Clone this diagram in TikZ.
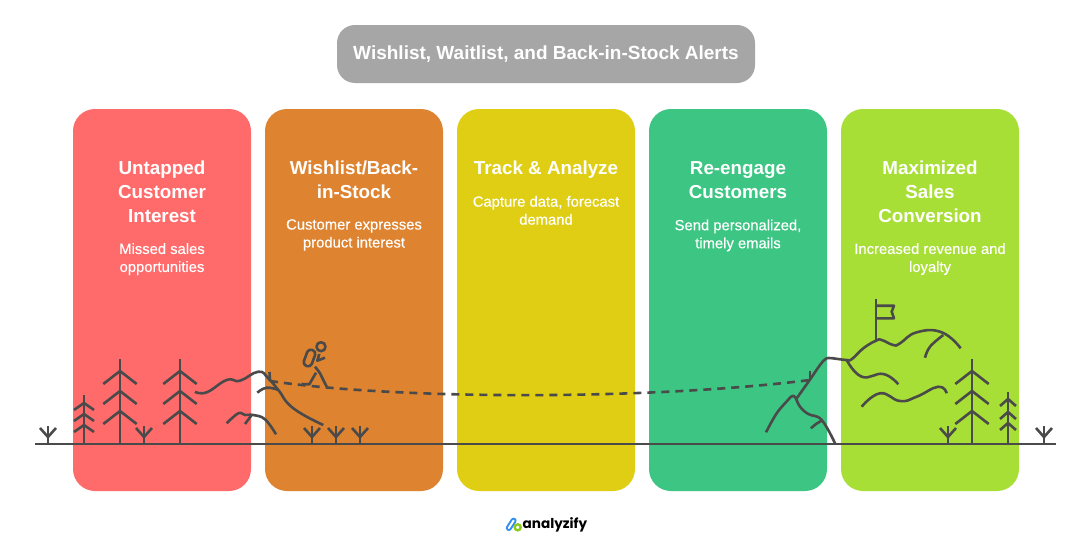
\documentclass[tikz,border=0pt]{standalone}
\usepackage{fontspec}
\setmainfont{Liberation Sans}
\newfontfamily\logofont{Poppins}
\newfontfamily\blurbfont{Liberation Sans}[FakeBold=0.35]
\definecolor{inkgray}{HTML}{4A4A4A}
\definecolor{titlegray}{HTML}{A6A6A6}
\definecolor{panelred}{HTML}{FF6B6B}
\definecolor{panelorange}{HTML}{DE8431}
\definecolor{panelyellow}{HTML}{DFCE14}
\definecolor{panelgreen}{HTML}{3CC583}
\definecolor{panellime}{HTML}{A8DF36}
\definecolor{logoblue}{HTML}{2F8FF0}
\definecolor{logolime}{HTML}{8CCB1E}
\usetikzlibrary{positioning}
\tikzset{
	panel/.style={minimum width=178pt, minimum height=382pt, rounded corners=22pt, inner sep=0pt},
	head/.style={text=white, font=\fontsize{18.8}{24}\selectfont\bfseries, align=center, inner sep=0pt},
	blurb/.style={text=white, font=\blurbfont\fontsize{14.8}{18}\selectfont, align=center, inner sep=0pt},
	land/.style={draw=inkgray, line width=2.6pt, line join=round},
}
% tree: x, top, list of branch apex heights
\newcommand{\fir}[5]{
	\draw[land] (#1,444) -- (#1,#2);
	\foreach \a in {#3} {
		\draw[land] (#1-#4,\a+#5) -- (#1,\a) -- (#1+#4,\a+#5);
	}
}
% sprout: x, base
\newcommand{\sprout}[1]{
	\draw[land] (#1,444) -- (#1,426);
	\draw[land] (#1-8,428) -- (#1,437) -- (#1+8,428);
}
\begin{document}
\begin{tikzpicture}[x=1pt,y=-1pt]
	\useasboundingbox (0,0) rectangle (1092,557);
	\fill[white] (0,0) rectangle (1092,557);

	% title
	\node[fill=titlegray, minimum width=418pt, minimum height=58pt, rounded corners=18pt, text=white, font=\fontsize{19}{22}\selectfont\bfseries] (title) at (546,54) {Wishlist, Waitlist, and Back-in-Stock Alerts};

	% panels
	\node[panel, fill=panelred] (red) at (162,300) {};
	\node[panel, fill=panelorange] (orange) at (354,300) {};
	\node[panel, fill=panelyellow] (yellow) at (546,300) {};
	\node[panel, fill=panelgreen] (green) at (738,300) {};
	\node[panel, fill=panellime] (lime) at (930,300) {};

	% panel texts
	\node[head, below=52pt of red.north] (redhead) {Untapped\\Customer\\Interest};
	\node[blurb, below=20pt of redhead.south] (redblurb) {Missed sales\\opportunities};
	\node[head, below=52pt of orange.north] (orangehead) {Wishlist/Back-\\in-Stock};
	\node[blurb, below=20pt of orangehead.south] (orangeblurb) {Customer expresses\\product interest};
	\node[head, below=52pt of yellow.north] (yellowhead) {Track \& Analyze};
	\node[blurb, below=17pt of yellowhead.south] (yellowblurb) {Capture data, forecast\\demand};
	\node[head, below=52.6pt of green.north] (greenhead) {Re-engage\\Customers};
	\node[blurb, below=20.4pt of greenhead.south] (greenblurb) {Send personalized,\\timely emails};
	\node[head, below=52pt of lime.north] (limehead) {Maximized\\Sales\\Conversion};
	\node[blurb, below=20pt of limehead.south] (limeblurb) {Increased revenue and\\loyalty};

	% ground
	\draw[land, line width=2.8pt] (35,444) -- (1056,444);

	% trees
	\fir{84}{395}{403,414,425}{10}{7}
	\fir{120}{359}{371,391,411}{16.7}{13}
	\fir{180}{359}{371,391,411}{16.7}{13}
	\fir{972}{359}{371,391,411}{16.7}{13}
	\fir{1008}{392}{399,412,423}{8}{7}

	% sprouts
	\sprout{48}
	\sprout{144}
	\sprout{312}
	\sprout{336}
	\sprout{360}
	\sprout{948}
	\sprout{1044}

	% left hills
	\draw[land] plot[smooth, tension=0.8] coordinates {(195,391.7) (206.7,392.3) (226.7,380) (240,380.7) (258.3,371.7) (268.3,378.3) (278.3,390) (293.3,408.3) (323.3,425)};
	\draw[land] plot[smooth, tension=0.8] coordinates {(257.3,392.7) (266.7,387.7) (278.3,390)};
	\draw[land] plot[smooth, tension=0.7] coordinates {(226.7,423.3) (238.3,413.3) (245,415) (253.3,415) (265,419.3) (276,434.3)};
	\draw[land] (245,424) -- (251.7,415);

	% right hills
	\draw[land] plot[smooth, tension=0.7] coordinates {(766,432.3) (776.7,413.3) (788,400) (791.7,396.4) (795,397) (800,406.7) (808.3,414) (821.7,420) (835,443.3)};
	\draw[land] plot[smooth, tension=0.7] coordinates {(811,428.3) (816,424) (821.7,420.7)};
	\draw[land] plot[smooth, tension=0.8] coordinates {(796.7,398.3) (810,379.5) (820,365) (825,359.5) (829,358) (838,359) (846.7,360) (852,359) (863.3,348.3) (876,340.7) (881.7,340) (893.3,345) (900,343.3) (916.7,332.3) (941.7,332.3) (960.7,348.3)};
	\draw[land] plot[smooth, tension=0.7] coordinates {(925,357.7) (930,346.7) (943.3,335)};
	\draw[land] plot[smooth, tension=0.8] coordinates {(846.7,360) (861.7,376.7) (883.3,374) (898.3,384.3)};
	\draw[land] plot[smooth, tension=0.8] coordinates {(861.7,406.7) (880,393.3) (900,401) (916.7,396.7) (938.3,386.7) (946.7,393.3)};

	% flag
	\draw[land] (876,340.7) -- (876,299);
	\draw[land] (876,305.7) -- (894,305.7) -- (891.7,311.7) -- (894,318.3) -- (876,318.3);

	% trail
	\coordinate (trailstart) at (270,381);
	\coordinate (trailend) at (810,380);
	\draw[land] (trailstart) -- (269.5,372);
	\draw[land] (trailend) -- (810,371);
	\draw[land, dash pattern=on 8pt off 6pt] (trailstart) .. controls (400,400) and (650,400) .. (trailend);

	% hiker
	\draw[land] (321,346.7) circle (4.5);
	\draw[land, rounded corners=3.8pt, rotate around={-20:(309.5,358)}] (305.3,349.5) rectangle (313.7,366.5);
	\draw[land] (319.3,354) -- (317.3,360.7) -- (325,357.7);
	\draw[land] plot[smooth, tension=0.7] coordinates {(315,366.7) (320,373.3) (323.3,380) (326.7,386.7)};
	\draw[land] (316,372.7) -- (309.3,384.3) -- (301.7,384);

	% logo
	\draw[logoblue, line width=6pt, line cap=round] (508.8,528) -- (513.6,520.6);
	\draw[white, line width=2pt, line cap=round] (508.8,528) -- (513.6,520.6);
	\draw[logolime, line width=2.4pt] (517.7,527.3) circle (3);
	\node[anchor=west, inner sep=0pt, font=\logofont\fontsize{13.6}{18}\selectfont\bfseries, text=black] (logotext) at (522.5,524.5) {analyzify};
\end{tikzpicture}
\end{document}
